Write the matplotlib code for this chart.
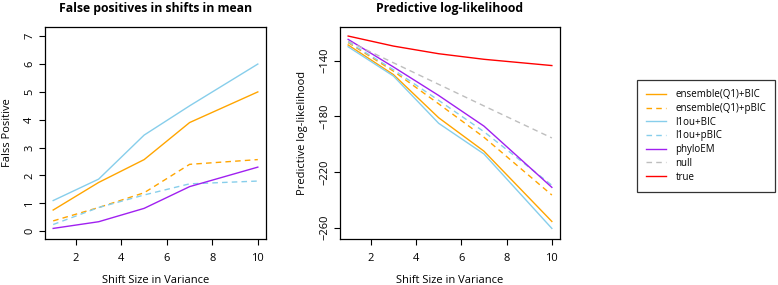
import matplotlib
matplotlib.use("Agg")
import matplotlib.pyplot as plt
from matplotlib.lines import Line2D

plt.rcParams['font.family'] = ['Open Sans', 'DejaVu Sans']

shift_sizes = [1, 3, 5, 7, 10]

# False positives
fp_ens_bic = [0.76, 1.75, 2.57, 3.90, 5.00]
fp_ens_pbic = [0.37, 0.85, 1.38, 2.40, 2.57]
fp_l1ou_bic = [1.10, 1.87, 3.45, 4.50, 6.00]
fp_l1ou_pbic = [0.24, 0.85, 1.30, 1.70, 1.80]
fp_phyloem = [0.10, 0.34, 0.82, 1.60, 2.30]

# Predictive log-likelihood
ll_ens_bic = [-128.7, -150.0, -181.0, -205.0, -255.5]
ll_ens_pbic = [-127.0, -147.5, -171.0, -195.0, -236.5]
ll_l1ou_bic = [-130.0, -151.0, -185.0, -207.0, -260.5]
ll_l1ou_pbic = [-126.5, -146.5, -168.5, -191.0, -229.5]
ll_phyloem = [-124.7, -144.5, -165.0, -187.0, -231.0]
ll_null = [-126.0, -141.5, -157.0, -172.5, -195.5]
ll_true = [-122.3, -129.5, -135.0, -139.0, -143.5]

legend_labels = ["ensemble(Q1)+BIC", "ensemble(Q1)+pBIC", "l1ou+BIC", "l1ou+pBIC", "phyloEM", "null", "true"]

c_orange = "#FFA500"
c_blue = "#87CEEB"
c_purple = "#A020F0"
c_grey = "#BEBEBE"
c_red = "#FF0000"
dash = (0, (4, 3))

styles = {
    "ensemble(Q1)+BIC": (c_orange, "-"),
    "ensemble(Q1)+pBIC": (c_orange, dash),
    "l1ou+BIC": (c_blue, "-"),
    "l1ou+pBIC": (c_blue, dash),
    "phyloEM": (c_purple, "-"),
    "null": (c_grey, dash),
    "true": (c_red, "-"),
}

W, H = 778, 285
fig = plt.figure(figsize=(W / 100, H / 100), dpi=100)

def ax_rect(x0, x1, y0, y1):
    return [x0 / W, 1 - y1 / H, (x1 - x0) / W, (y1 - y0) / H]

ax1 = fig.add_axes(ax_rect(45, 266, 27, 239))
ax2 = fig.add_axes(ax_rect(340, 560, 27, 239))

lw = 1.0
fp_data = {
    "ensemble(Q1)+BIC": fp_ens_bic,
    "ensemble(Q1)+pBIC": fp_ens_pbic,
    "l1ou+BIC": fp_l1ou_bic,
    "l1ou+pBIC": fp_l1ou_pbic,
    "phyloEM": fp_phyloem,
}
for name, vals in fp_data.items():
    c, ls = styles[name]
    ax1.plot(shift_sizes, vals, color=c, linestyle=ls, lw=lw)

ll_data = {
    "ensemble(Q1)+BIC": ll_ens_bic,
    "ensemble(Q1)+pBIC": ll_ens_pbic,
    "l1ou+BIC": ll_l1ou_bic,
    "l1ou+pBIC": ll_l1ou_pbic,
    "phyloEM": ll_phyloem,
    "null": ll_null,
    "true": ll_true,
}
for name, vals in ll_data.items():
    c, ls = styles[name]
    ax2.plot(shift_sizes, vals, color=c, linestyle=ls, lw=lw)

ax1.set_xlim(0.64, 10.36)
ax1.set_ylim(-0.28, 7.33)
ax1.set_yticks(range(0, 8))
ax2.set_xlim(0.64, 10.36)
ax2.set_ylim(-268.1, -115.8)
ax2.set_yticks([-140, -180, -220, -260])

for ax in (ax1, ax2):
    ax.set_xticks([2, 4, 6, 8, 10])
    ax.tick_params(axis='both', direction='out', length=4, width=0.8, labelsize=8, colors='black')
    ax.tick_params(axis='x', pad=6)
    ax.tick_params(axis='y', pad=3)
    for lab in ax.get_yticklabels():
        lab.set_rotation(90)
        lab.set_va('center')
    for s in ax.spines.values():
        s.set_linewidth(0.9)
        s.set_color('black')
    ax.set_xlabel("Shift Size in Variance", fontsize=8, labelpad=8)

ax1.set_ylabel("Falss Positive", fontsize=8, labelpad=8)
ax2.set_ylabel("Predictive log-likelihood", fontsize=8, labelpad=8)
ax1.set_title("False positives in shifts in mean", fontsize=8.8, fontweight='bold', pad=11)
ax2.set_title("Predictive log-likelihood", fontsize=8.8, fontweight='bold', pad=11)

handles = [Line2D([0], [0], color=styles[n][0], linestyle=styles[n][1], lw=lw) for n in legend_labels]
leg = fig.legend(handles, legend_labels, loc='upper left',
                 bbox_to_anchor=(637 / W, 1 - 80 / H), fontsize=7.0,
                 frameon=True, fancybox=False, edgecolor='black',
                 handlelength=2.0, handletextpad=1.0, labelspacing=0.28,
                 borderpad=0.95, borderaxespad=0)
leg.get_frame().set_linewidth(0.9)

fig.savefig("out.png", dpi=100)
